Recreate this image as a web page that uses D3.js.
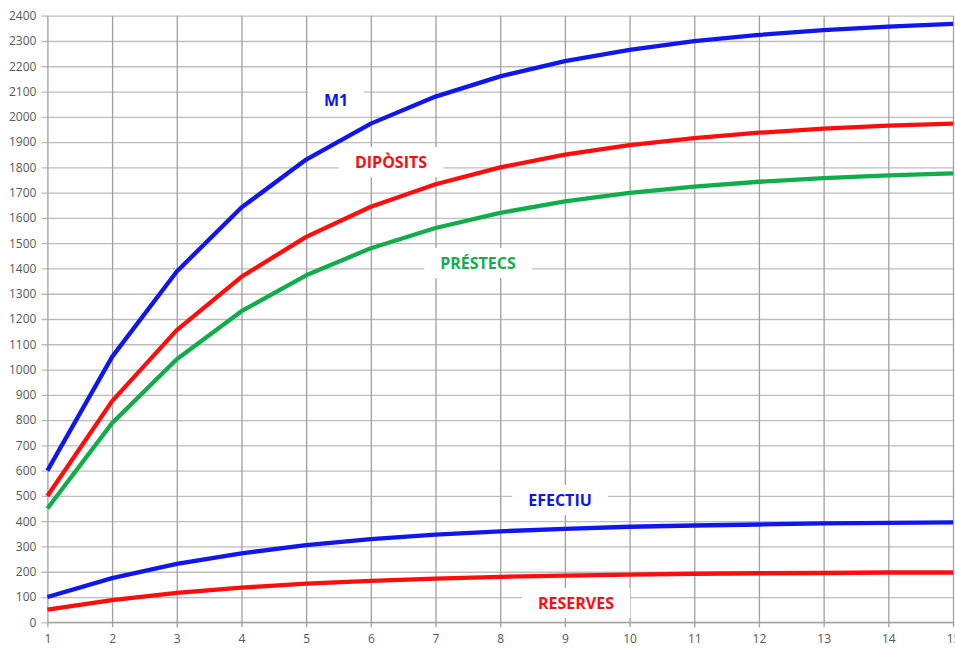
<!DOCTYPE html>
<html><head><meta charset="utf-8">
<script src="https://cdn.jsdelivr.net/npm/d3@7"></script>
<style>html,body{margin:0;padding:0;background:#fff;overflow:hidden}</style>
</head><body>
<svg id="c" width="955" height="648"></svg>
<script>
const steps = [1,2,3,4,5,6,7,8,9,10,11,12,13,14,15];
const m1 =        [600,1050,1388,1641,1831,1973,2080,2160,2220,2265,2299,2324,2343,2357,2368];
const diposits =  [500,875,1156,1367,1525,1644,1733,1800,1850,1888,1916,1937,1953,1965,1973];
const prestecs =  [450,788,1041,1231,1373,1480,1560,1620,1665,1699,1724,1743,1757,1768,1776];
const efectiu =   [100,175,231,273,305,329,347,360,370,378,383,387,391,393,395];
const reserves =  [50,88,116,137,153,164,173,180,185,189,192,194,195,197,197];
const yTicks = d3.range(0, 2401, 100);

const series = [
  {name:"M1", values:m1, color:"#0f16ee", label:[336,100]},
  {name:"DIPÒSITS", values:diposits, color:"#ff0d0d", label:[391,162]},
  {name:"PRÉSTECS", values:prestecs, color:"#11ad4b", label:[478,263]},
  {name:"EFECTIU", values:efectiu, color:"#0f16ee", label:[560,500]},
  {name:"RESERVES", values:reserves, color:"#ff0d0d", label:[576,603]}
];

const svg = d3.select("#c");
const x = d3.scaleLinear().domain([1,15]).range([47.4,953]);
const y = d3.scaleLinear().domain([0,2400]).range([622.3,15.7]);

const yAxis = d3.axisLeft(y).tickValues(yTicks).tickSizeInner(-(953-47.4)).tickPadding(12).tickFormat(d3.format("d"));
const gy = svg.append("g").attr("transform","translate(47.4,0)").call(yAxis);
gy.select(".domain").remove();
gy.selectAll(".tick line").attr("x1",-6).attr("stroke","#bdbdbd").attr("stroke-width",1.3);
gy.selectAll(".tick text").attr("font-family","'Open Sans', sans-serif").attr("font-size",12).attr("fill","#595959").attr("x",-11);

const xAxis = d3.axisBottom(x).tickValues(steps).tickSizeInner(-(622.3-15.7)).tickPadding(10).tickFormat(d3.format("d"));
const gx = svg.append("g").attr("transform","translate(0,622.3)").call(xAxis);
gx.select(".domain").remove();
gx.selectAll(".tick line").attr("y1",5).attr("stroke","#a0a0a0").attr("stroke-width",1.3);
gx.selectAll(".tick text").attr("font-family","'Open Sans', sans-serif").attr("font-size",12).attr("fill","#595959").attr("y",12);

svg.append("line").attr("x1",47.4).attr("x2",953).attr("y1",622.3).attr("y2",622.3).attr("stroke","#a0a0a0").attr("stroke-width",1.3);

const line = d3.line().x((d,i)=>x(steps[i])).y(d=>y(d));
series.forEach(s=>{
  svg.append("path").attr("d",line(s.values)).attr("fill","none").attr("stroke",s.color).attr("stroke-width",4.3).attr("stroke-linejoin","round");
});

series.forEach(s=>{
  const g = svg.append("g");
  const t = g.append("text").attr("x",s.label[0]).attr("y",s.label[1]).attr("text-anchor","middle").attr("dominant-baseline","central")
    .attr("font-family","'Open Sans', sans-serif").attr("font-weight","bold").attr("font-size",16).attr("fill",s.color).text(s.name);
  const b = t.node().getBBox();
  g.insert("rect","text").attr("x",b.x-16).attr("y",b.y-4).attr("width",b.width+32).attr("height",b.height+8).attr("fill","#fff");
});
</script>
</body></html>
